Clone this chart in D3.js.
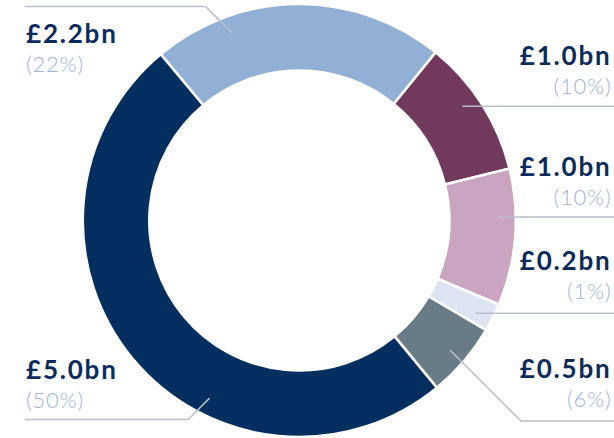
<!doctype html>
<html>
<head>
<meta charset="utf-8">
<style>
	body {
		margin: 0;
		background: #fff;
	}
	.amount {
		font: 700 26px Lato, sans-serif;
		letter-spacing: 1.8px;
		fill: #0b2c5b;
	}
	.share {
		font: 300 22px Lato, sans-serif;
		letter-spacing: 0.8px;
		fill: #9bb5dc;
	}
	.leader {
		fill: none;
		stroke: #b9c0cb;
		stroke-width: 1.5px;
	}
</style>
<script src="https://d3js.org/d3.v7.min.js"></script>
</head>
<body>
<div id="canvas"></div>
<script>
	// slices, clockwise from the light blue one
	var amounts = ["£2.2bn", "£1.0bn", "£1.0bn", "£0.2bn", "£0.5bn", "£5.0bn"];
	var shares = ["(22%)", "(10%)", "(10%)", "(1%)", "(6%)", "(50%)"];
	// arc sizes as measured on the picture (percent of the ring)
	var sizes = [21.9, 10.3, 10.2, 2.1, 5.6, 49.9];
	var colors = ["#92afd5", "#713a5c", "#caa5c0", "#dde3f0", "#6a7b88", "#022f5f"];

	var width = 614,
		height = 438,
		cx = 299.3,
		cy = 220.5,
		outer = 216.5,
		inner = 150;

	// label layout: side, baseline of amount, leader anchor angle (deg), leader y
	var layout = [
		{side: "left",  y: 43,  angle: -19.7, ly: 6.5},
		{side: "right", y: 65,  angle: 55,    ly: null},
		{side: "right", y: 176, angle: 89,    ly: null},
		{side: "right", y: 270, angle: 117.8, ly: null},
		{side: "right", y: 378, angle: 130.7, ly: 421},
		{side: "left",  y: 379, angle: 206.8, ly: 419.5}
	];

	var svg = d3.select("#canvas")
		.append("svg")
		.attr("width", width)
		.attr("height", height);

	var start = -39.8 * Math.PI / 180;

	var pie = d3.pie()
		.sort(null)
		.value(d => d)
		.startAngle(start)
		.endAngle(start + 2 * Math.PI);

	var arc = d3.arc()
		.innerRadius(inner)
		.outerRadius(outer);

	var ring = svg.append("g")
		.attr("transform", `translate(${cx}, ${cy})`);

	ring.selectAll("path")
		.data(pie(sizes))
	  .enter().append("path")
		.attr("d", arc)
		.attr("fill", (d, i) => colors[i])
		.attr("stroke", "#fff")
		.attr("stroke-width", 2.5);

	// leader lines
	var r = 199;
	var leader = function(d) {
		var a = d.angle * Math.PI / 180,
			x0 = cx + r * Math.sin(a),
			y0 = cy - r * Math.cos(a),
			end = d.side === "left" ? 25 : 614,
			pts = [[x0, y0]];
		if (d.ly !== null) {
			var dx = Math.abs(d.ly - y0) * (d.side === "left" ? -1 : 1);
			pts.push([x0 + dx, d.ly]);
			pts.push([end, d.ly]);
		} else {
			pts.push([end, y0]);
		}
		return d3.line()(pts);
	};

	svg.selectAll("path.leader")
		.data(layout)
	  .enter().append("path")
		.attr("class", "leader")
		.attr("d", leader);

	var labels = svg.selectAll("g.label")
		.data(layout)
	  .enter().append("g")
		.attr("class", "label")
		.attr("text-anchor", d => d.side === "left" ? "start" : "end")
		.attr("transform", d => `translate(${d.side === "left" ? 26 : 611.5}, ${d.y})`);

	labels.append("text")
		.attr("class", "amount")
		.text((d, i) => amounts[i]);

	labels.append("text")
		.attr("class", "share")
		.attr("y", 28.5)
		.text((d, i) => shares[i]);
</script>
</body>
</html>
